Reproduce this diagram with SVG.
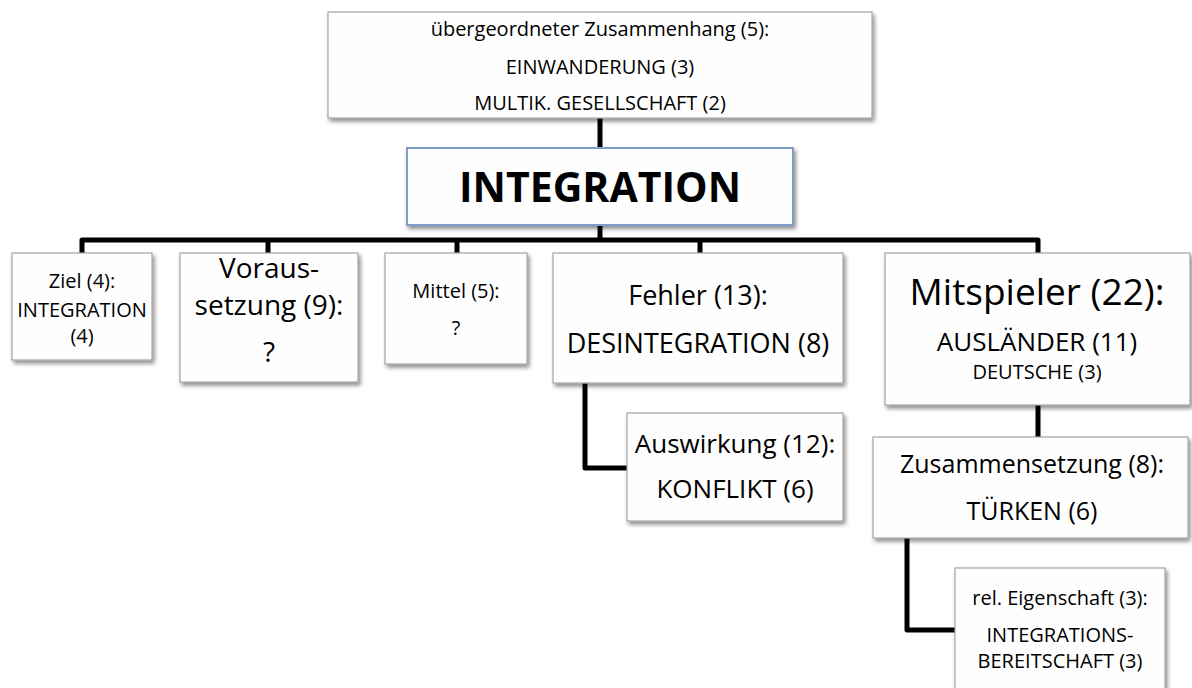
<svg xmlns="http://www.w3.org/2000/svg" width="1192" height="688" viewBox="0 0 1192 688">
  <defs>
    <filter id="shadow" x="-10%" y="-10%" width="125%" height="135%">
      <feGaussianBlur in="SourceAlpha" stdDeviation="2"/>
      <feOffset dx="2" dy="3" result="off"/>
      <feComponentTransfer><feFuncA type="linear" slope="0.45"/></feComponentTransfer>
      <feMerge><feMergeNode/><feMergeNode in="SourceGraphic"/></feMerge>
    </filter>
  </defs>
  <style>
    .box { fill: #fefefe; stroke: #a3a3a3; stroke-width: 1.2; filter: url(#shadow); }
    .main { fill: #fefefe; stroke: #7f9ccb; stroke-width: 2; filter: url(#shadow); }
    text { font-family: "Open Sans", "Liberation Sans", sans-serif; fill: #000; text-anchor: middle; }
    .conn { fill: none; stroke: #000; stroke-width: 5; stroke-linejoin: round; }
  </style>
  <rect width="1192" height="688" fill="#fff"/>

  <!-- connectors -->
  <g id="connectors">
    <path class="conn" d="M600,118 V148"/>
    <path class="conn" d="M600,225 V240"/>
    <path class="conn" d="M82,253 V240 H1038 V253"/>
    <path class="conn" d="M268,240 V253"/>
    <path class="conn" d="M457,240 V253"/>
    <path class="conn" d="M700,240 V253"/>
    <path class="conn" d="M1038,405 V437"/>
    <path class="conn" d="M585,383 V468 H627"/>
    <path class="conn" d="M907,538 V630 H955"/>
  </g>

  <g id="context">
    <rect class="box" x="328" y="12" width="544" height="106"/>
    <text x="600" y="36" font-size="20">übergeordneter Zusammenhang (5):</text>
    <text x="600" y="74" font-size="20">EINWANDERUNG (3)</text>
    <text x="600" y="110" font-size="20">MULTIK. GESELLSCHAFT (2)</text>
  </g>

  <g id="integration">
    <rect class="main" x="407" y="148" width="386" height="77"/>
    <text x="600" y="202" font-size="41" font-weight="bold">INTEGRATION</text>
  </g>

  <g id="ziel">
    <rect class="box" x="12" y="253" width="140" height="107"/>
    <text x="82" y="288" font-size="20">Ziel (4):</text>
    <text x="82" y="317" font-size="20">INTEGRATION</text>
    <text x="82" y="343" font-size="20">(4)</text>
  </g>

  <g id="voraussetzung">
    <rect class="box" x="180" y="253" width="178" height="129"/>
    <text x="269" y="278" font-size="28">Voraus-</text>
    <text x="269" y="315" font-size="28">setzung (9):</text>
    <text x="269" y="362" font-size="28">?</text>
  </g>

  <g id="mittel">
    <rect class="box" x="385" y="253" width="142" height="111"/>
    <text x="456" y="298" font-size="20">Mittel (5):</text>
    <text x="456" y="335" font-size="20">?</text>
  </g>

  <g id="fehler">
    <rect class="box" x="553" y="253" width="290" height="130"/>
    <text x="698" y="305" font-size="27">Fehler (13):</text>
    <text x="698" y="353" font-size="27">DESINTEGRATION (8)</text>
  </g>

  <g id="mitspieler">
    <rect class="box" x="885" y="253" width="305" height="152"/>
    <text x="1037" y="305" font-size="37">Mitspieler (22):</text>
    <text x="1037" y="351" font-size="26">AUSLÄNDER (11)</text>
    <text x="1037" y="379" font-size="20">DEUTSCHE (3)</text>
  </g>

  <g id="auswirkung">
    <rect class="box" x="627" y="413" width="216" height="108"/>
    <text x="735" y="453" font-size="26">Auswirkung (12):</text>
    <text x="735" y="498" font-size="26">KONFLIKT (6)</text>
  </g>

  <g id="zusammensetzung">
    <rect class="box" x="873" y="437" width="315" height="101"/>
    <text x="1032" y="473" font-size="25">Zusammensetzung (8):</text>
    <text x="1032" y="520" font-size="25">TÜRKEN (6)</text>
  </g>

  <g id="eigenschaft">
    <rect class="box" x="955" y="568" width="210" height="134"/>
    <text x="1060" y="605" font-size="20">rel. Eigenschaft (3):</text>
    <text x="1060" y="642" font-size="20">INTEGRATIONS-</text>
    <text x="1060" y="668" font-size="20">BEREITSCHAFT (3)</text>
  </g>
</svg>
